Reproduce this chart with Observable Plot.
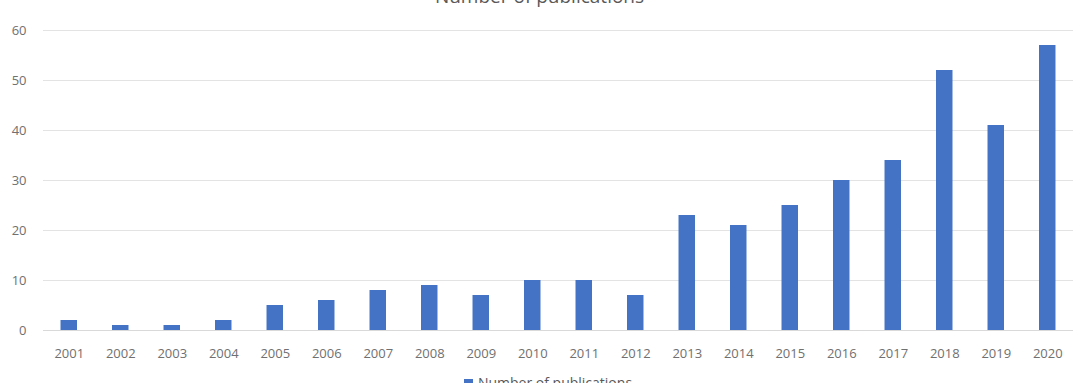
<!DOCTYPE html>
<html>
<head>
<meta charset="utf-8">
<script src="https://cdn.jsdelivr.net/npm/d3@7"></script>
<script src="https://cdn.jsdelivr.net/npm/@observablehq/plot@0.6"></script>
<style>
  html, body { margin: 0; padding: 0; background: #fff; overflow: hidden; }
  body { width: 1079px; height: 383px; position: relative; font-family: "Open Sans", sans-serif; }
  #title { position: absolute; top: -17px; left: 0; width: 1079px; text-align: center; font-size: 19px; color: #595959; }
  #chart { position: absolute; top: 0; left: 0; }
  #legend { position: absolute; top: 373px; left: 0; width: 1096px; text-align: center; font-size: 14px; color: #595959; }
  #legend .sw { display: inline-block; width: 9px; height: 9px; background: #4472C4; margin-right: 5px; }
</style>
</head>
<body>
<div id="title">Number of publications</div>
<div id="chart"></div>
<div id="legend"><span class="sw"></span>Number of publications</div>
<script>
const years = ["2001","2002","2003","2004","2005","2006","2007","2008","2009","2010","2011","2012","2013","2014","2015","2016","2017","2018","2019","2020"];
const publications = [2,1,1,2,5,6,8,9,7,10,10,7,23,21,25,30,34,52,41,57];
const yTicks = [0,10,20,30,40,50,60];

const data = years.map((y, i) => ({year: y, value: publications[i]}));

const chart = Plot.plot({
  width: 1079,
  height: 375,
  marginTop: 30,
  marginBottom: 45,
  marginLeft: 43,
  marginRight: 6,
  style: {fontFamily: "Open Sans, sans-serif", fontSize: "13px", color: "#707070", background: "transparent"},
  x: {domain: years, paddingInner: 0.68, paddingOuter: 0.34, round: false, label: null, tickSize: 0, tickPadding: 18},
  y: {domain: [0, 60], ticks: yTicks, label: null, tickSize: 0, tickPadding: 17},
  marks: [
    Plot.ruleY(yTicks, {stroke: "#e3e3e3", strokeWidth: 1}),
    Plot.barY(data, {x: "year", y: "value", fill: "#4472C4"}),
    Plot.ruleY([0], {stroke: "#d9d9d9", strokeWidth: 1})
  ]
});
document.getElementById("chart").appendChild(chart);
</script>
</body>
</html>
